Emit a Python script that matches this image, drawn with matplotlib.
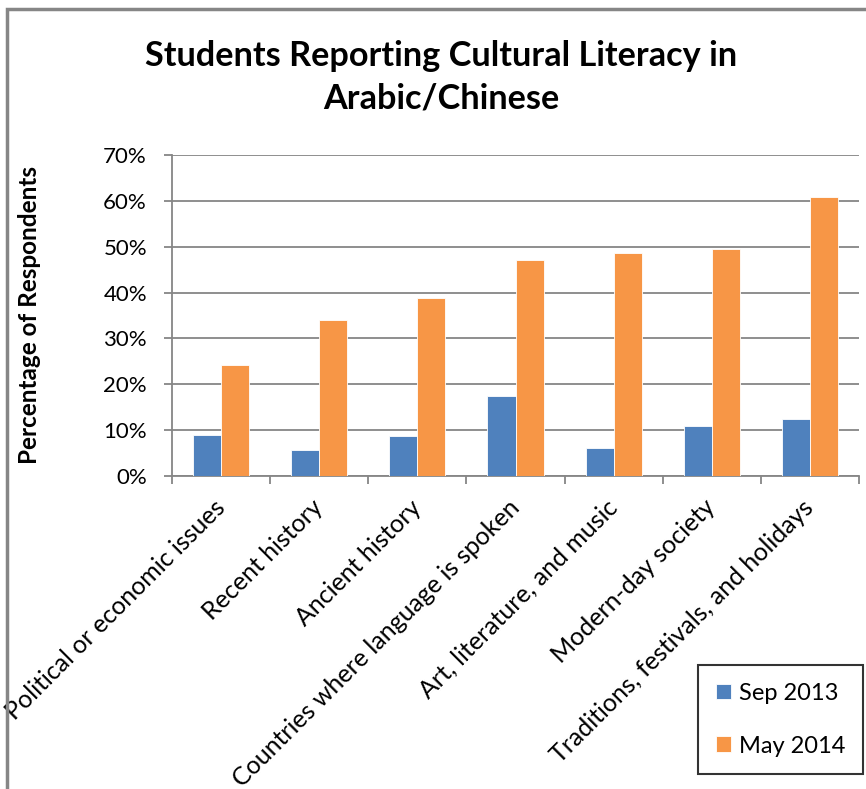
import matplotlib
matplotlib.use("Agg")
import matplotlib.pyplot as plt
import numpy as np
from matplotlib.patches import Rectangle

categories = ["Political or economic issues", "Recent history", "Ancient history",
              "Countries where language is spoken", "Art, literature, and music",
              "Modern-day society", "Traditions, festivals, and holidays"]
sep_2013 = [9.0, 5.6, 8.7, 17.5, 6.0, 10.8, 12.4]
may_2014 = [24.2, 34.1, 38.8, 47.2, 48.7, 49.5, 60.9]
series_names = ["Sep 2013", "May 2014"]
yticks = [0, 10, 20, 30, 40, 50, 60, 70]

plt.rcParams['font.family'] = ['Lato', 'DejaVu Sans']

W, H = 866, 789
fig = plt.figure(figsize=(W/100, H/100), dpi=100)
ax = fig.add_axes([172/W, 1-476/H, (859-172)/W, (476-155)/H])

x = np.arange(len(categories))
bw = 0.286
blue = "#4F81BD"
orange = "#F79646"
b1 = ax.bar(x - bw/2, sep_2013, bw, color=blue, edgecolor="white", linewidth=0.6, zorder=3, label=series_names[0])
b2 = ax.bar(x + bw/2, may_2014, bw, color=orange, edgecolor="white", linewidth=0.6, zorder=3, label=series_names[1])

ax.set_xlim(-0.5, len(categories) - 0.5)
ax.set_ylim(0, 70)
ax.set_yticks(yticks)
ax.set_yticklabels([f"{v}%" for v in yticks], fontsize=16)
ax.yaxis.grid(True, color="#868686", linewidth=1.3, zorder=0)
ax.set_axisbelow(True)

gray = "#868686"
for s in ["top", "right"]:
    ax.spines[s].set_visible(False)
for s in ["left", "bottom"]:
    ax.spines[s].set_color(gray)
    ax.spines[s].set_linewidth(1.3)

ax.set_xticks(np.arange(len(categories) + 1) - 0.5)
ax.set_xticklabels([])
ax.set_xticks(x, minor=True)
ax.set_xticklabels(categories, minor=True, rotation=45, ha="right", va="center",
                   rotation_mode="anchor", fontsize=18)
ax.tick_params(axis="x", which="minor", length=0, pad=20)
ax.tick_params(axis="x", which="major", length=6, width=1.3, color=gray, direction="out")
ax.tick_params(axis="y", length=6, width=1.3, color=gray, direction="out", pad=12)

fig.text(30/W, 1-315/H, "Percentage of Respondents", rotation=90, ha="center", va="center",
         fontsize=17.5, fontweight="bold")
fig.text(441/W, 1-77/H, "Students Reporting Cultural Literacy in\nArabic/Chinese", ha="center",
         va="center", fontsize=24.7, fontweight="bold", linespacing=1.4)

leg = fig.legend(handles=[b1, b2], labels=series_names, loc="upper left",
                 bbox_to_anchor=(698/W, 1-665/H), bbox_transform=fig.transFigure,
                 frameon=True, fancybox=False, fontsize=17, handlelength=0.65, handleheight=0.65,
                 labelspacing=1.35, borderpad=0.75, handletextpad=0.35, borderaxespad=0)
leg.get_frame().set_edgecolor("black")
leg.get_frame().set_linewidth(1.5)

fig.patches.append(Rectangle((7/W, -0.1), 1.2, 1 - 9/H + 0.1, transform=fig.transFigure,
                             fill=False, edgecolor=gray, linewidth=2.5))

fig.savefig("out.png", dpi=100)
